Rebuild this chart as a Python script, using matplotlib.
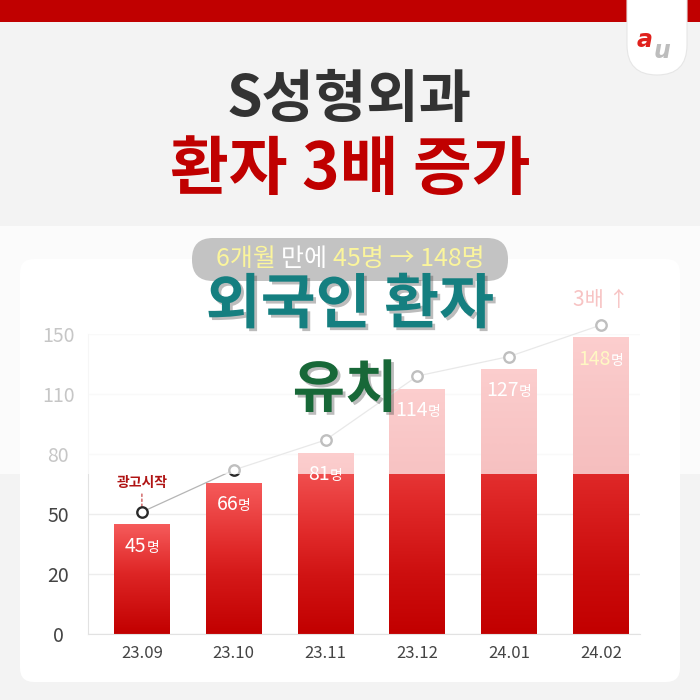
import numpy as np
import matplotlib
matplotlib.use('Agg')
import matplotlib.pyplot as plt
import matplotlib.patheffects as pe
from matplotlib.patches import FancyBboxPatch, Rectangle
from matplotlib.colors import LinearSegmentedColormap
from matplotlib.offsetbox import TextArea, HPacker, AnnotationBbox
from matplotlib.transforms import ScaledTranslation

plt.rcParams['font.family'] = ['Noto Sans CJK KR', 'DejaVu Sans']

# data
months = ['23.09', '23.10', '23.11', '23.12', '24.01', '24.02']
patients = [45, 66, 81, 114, 127, 148]
tick_values = [0, 20, 50, 80, 110, 150]

# the y axis of the original is evenly spaced between uneven tick values
knots = np.array(tick_values, dtype=float)
steps = np.arange(len(knots), dtype=float)


def forward(v):
    v = np.asarray(v, dtype=float)
    out = np.interp(v, knots, steps)
    out = np.where(v > knots[-1], steps[-1] + (v - knots[-1]) / 40.0, out)
    out = np.where(v < 0, v / 20.0, out)
    return out


def inverse(s):
    s = np.asarray(s, dtype=float)
    out = np.interp(s, steps, knots)
    out = np.where(s > steps[-1], knots[-1] + (s - steps[-1]) * 40.0, out)
    out = np.where(s < 0, s * 20.0, out)
    return out


fig = plt.figure(figsize=(7, 7), dpi=100)
fig.patch.set_facecolor('#f3f3f3')

# background layer in pixel coordinates
bg = fig.add_axes([0, 0, 1, 1], zorder=-1)
bg.set_xlim(0, 700)
bg.set_ylim(700, 0)
bg.axis('off')
bg.add_patch(Rectangle((0, 0), 700, 22, color='#c00000', lw=0))
bg.add_patch(FancyBboxPatch((627, -40), 60, 115, boxstyle='round,pad=0,rounding_size=30',
                            fc='white', ec='#e6e6e6', lw=0.8))
bg.text(645, 40, 'a', color='#e0201c', fontsize=17, fontweight='bold', style='italic',
        ha='center', va='center', family='DejaVu Sans')
bg.text(662, 51, 'u', color='#bdbdbd', fontsize=17, fontweight='bold', style='italic',
        ha='center', va='center', family='DejaVu Sans')
bg.text(349, 100, 'S성형외과', color='#333333', fontsize=41, fontweight='heavy',
        ha='center', va='center')
bg.text(350, 170, '환자 3배 증가', color='#c00000', fontsize=46, fontweight='heavy',
        ha='center', va='center')
bg.add_patch(FancyBboxPatch((20, 259), 660, 423, boxstyle='round,pad=0,rounding_size=14',
                            fc='white', ec='none'))

# chart
ax = fig.add_axes([88 / 700, 66 / 700, 552 / 700, 300 / 700], zorder=0)
ax.set_facecolor('none')
ax.set_yscale('function', functions=(forward, inverse))
x = np.arange(len(months))

bars = ax.bar(x, patients, width=0.61, color='none', edgecolor='none', zorder=2)
cmap = LinearSegmentedColormap.from_list('bar', ['#c20000', '#e12a2a', '#f65c5c'])
grad = np.linspace(0, 1, 256).reshape(-1, 1)
for b in bars:
    x0, w, h = b.get_x(), b.get_width(), b.get_height()
    im = ax.imshow(grad, cmap=cmap, extent=(x0, x0 + w, 0, h), origin='lower',
                   aspect='auto', zorder=2, interpolation='bilinear')
    im.set_clip_path(b)

shift = ax.transData + ScaledTranslation(0, 0.12, fig.dpi_scale_trans)
ax.plot(x, patients, color='#b5b5b5', lw=0.9, transform=shift, clip_on=False, zorder=3)
ax.plot(x, patients, 'o', ms=7.5, mfc='white', mec='#2a2a2a', mew=1.7,
        transform=shift, clip_on=False, zorder=4)

for i, v in enumerate(patients):
    num_color = '#ffe93a' if i == len(patients) - 1 else 'white'
    num = TextArea(str(v), textprops=dict(color=num_color, fontsize=14))
    unit = TextArea('명', textprops=dict(color='white', fontsize=10))
    box = HPacker(children=[num, unit], align='baseline', pad=0, sep=0)
    ab = AnnotationBbox(box, (i, v), xybox=(0, -16), boxcoords='offset points',
                        frameon=False, box_alignment=(0.5, 0.5), zorder=5)
    ax.add_artist(ab)

ax.annotate('광고시작', xy=(0, patients[0]), xycoords=shift, xytext=(0, 21),
            textcoords='offset points', ha='center', va='center', fontsize=10,
            fontweight='bold', color='#b01414',
            arrowprops=dict(arrowstyle='-', linestyle=(0, (2, 2)), color='#c84a4a',
                            lw=0.9, shrinkA=1, shrinkB=4))
ax.annotate('3배 ↑', xy=(len(patients) - 1, patients[-1]), xytext=(0, 27),
            textcoords='offset points', ha='center', va='center', fontsize=15,
            color='#e63a3a', annotation_clip=False)

ax.set_xlim(-0.587, 5.424)
ax.set_ylim(0, 150)
ax.set_xticks(x)
ax.set_xticklabels(months, fontsize=12, color='#444444')
ax.set_yticks(tick_values)
ax.set_yticklabels([str(t) for t in tick_values], fontsize=14, color='#444444')
for lab in ax.get_yticklabels():
    lab.set_horizontalalignment('center')
ax.tick_params(axis='y', length=0, pad=21.5)
ax.tick_params(axis='x', length=0, pad=8)
ax.yaxis.grid(True, color='#ededed', lw=1)
ax.set_axisbelow(True)
for side in ['top', 'right']:
    ax.spines[side].set_visible(False)
for side in ['left', 'bottom']:
    ax.spines[side].set_color('#e2e2e2')

# foreground layer: fade band and headline stickers
fg = fig.add_axes([0, 0, 1, 1], zorder=1)
fg.set_xlim(0, 700)
fg.set_ylim(700, 0)
fg.axis('off')
fg.add_patch(Rectangle((0, 226), 700, 248, color='white', alpha=0.7, lw=0))
fg.add_patch(FancyBboxPatch((192, 238), 316, 43, boxstyle='round,pad=0,rounding_size=21',
                            fc='#c3c3c3', ec='none'))
pill = HPacker(children=[
    TextArea('6개월 ', textprops=dict(color='#fbf59c', fontsize=18)),
    TextArea('만에 ', textprops=dict(color='white', fontsize=18)),
    TextArea('45명 → 148명', textprops=dict(color='#fbf59c', fontsize=18,
                                           family=['Noto Sans CJK KR', 'DejaVu Sans'])),
], align='baseline', pad=0, sep=0)
fg.add_artist(AnnotationBbox(pill, (350, 259), xycoords='data', frameon=False,
                             box_alignment=(0.5, 0.5)))
shadow = [pe.withSimplePatchShadow(offset=(2, -2), shadow_rgbFace='#404040', alpha=0.35)]
fg.text(350, 306, '외국인 환자', color='#157f80', fontsize=43, fontweight='heavy',
        ha='center', va='center', path_effects=shadow)
fg.text(345, 390, '유치', color='#186838', fontsize=41, fontweight='heavy',
        ha='center', va='center', path_effects=shadow)

fig.savefig('out.png', dpi=100, facecolor=fig.get_facecolor())
